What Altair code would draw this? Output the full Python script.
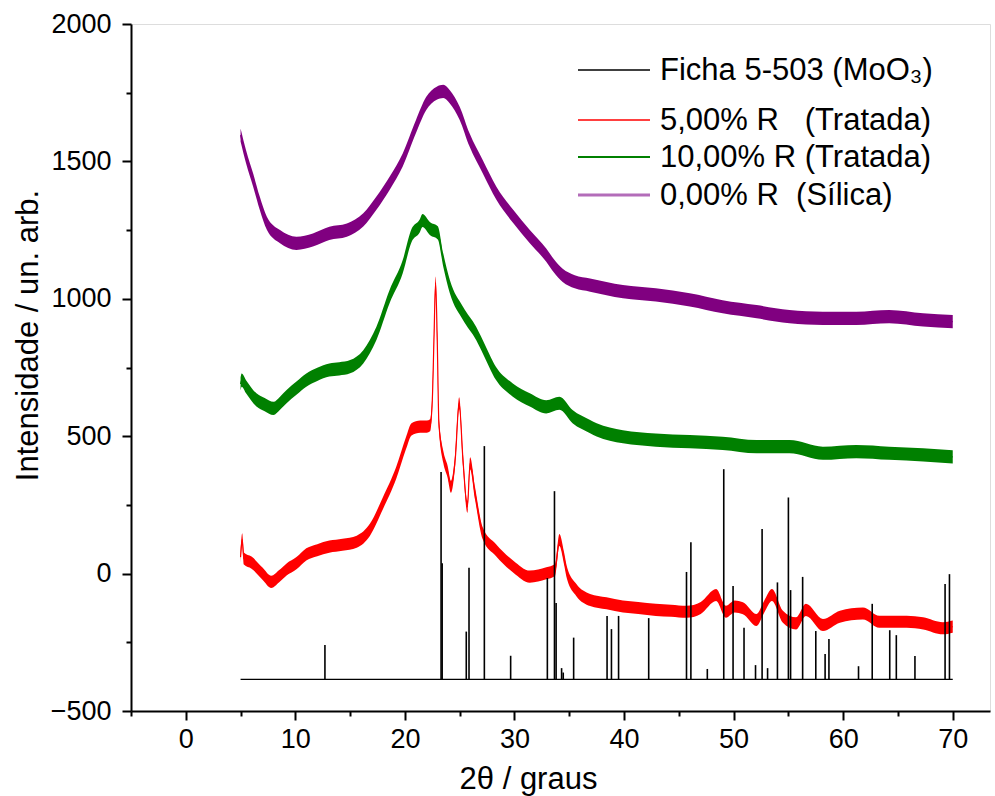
import altair as alt
import pandas as pd

# ---------------- data ----------------
NB = "\u00a0"
NAME_BLACK = "Ficha 5-503 (MoO\u2083)"
NAME_RED = "5,00% R" + NB * 3 + "(Tratada)"
NAME_GREEN = "10,00% R (Tratada)"
NAME_PURPLE = NB + "0,00% R" + NB * 2 + "(Sílica)"

red_x = [5.0, 5.15, 5.3, 6.0, 7.0, 7.8, 8.5, 9.2, 10.1, 11.0, 12.0, 13.1, 14.3, 15.6, 16.8,
         18.0, 19.2, 20.1, 20.6, 21.4, 22.0, 22.3, 22.5, 22.65, 22.8, 22.95, 23.1, 23.5, 23.9,
         24.2, 24.6, 24.95, 25.3, 25.7, 25.95, 26.4, 27.1, 28.3, 29.9, 31.4, 32.9, 33.7, 34.1,
         34.5, 34.8, 35.65, 36.9, 38.4, 39.9, 41.3, 42.9, 44.3, 45.7, 47.0, 48.4, 49.3, 50.1,
         50.85, 52.1, 52.8, 53.5, 54.5, 55.7, 56.6, 58.15, 59.7, 61.8, 63.3, 65.8, 67.3, 69.1, 70.0]
red_y = [60, 125, 55, 40, 0, -30, -10, 15, 38, 70, 85, 98, 105, 116, 159,
         257, 366, 475, 525, 535, 535, 540, 631, 850, 1059, 850, 548, 425, 370,
         316, 420, 620, 413, 243, 401, 292, 147, 86, 25, -11, 1, 13, 122,
         60, 1, -60, -96, -108, -120, -125, -132, -135, -139, -125, -78, -139, -120,
         -126, -169, -120, -78, -157, -181, -132, -187, -157, -145, -175, -175, -181, -199, -193]

green_x = [5.0, 5.1, 5.5, 6.45, 7.2, 8.0, 8.6, 9.2, 10.1, 11.0, 12.0, 13.1, 14.0, 15.0, 16.2,
           17.4, 18.6, 19.8, 20.6, 21.35, 21.6, 22.3, 23.0, 23.5, 24.1, 25.3, 26.5, 27.1, 28.3,
           29.85, 31.4, 32.9, 34.1, 35.3, 36.9, 37.5, 39.9, 42.9, 46.0, 49.0, 52.1, 55.1, 58.15,
           61.2, 64.2, 67.3, 70.0]
green_y = [690, 704, 680, 632, 615, 601, 620, 644, 675, 704, 725, 741, 745, 753, 789,
           874, 1008, 1117, 1230, 1265, 1285, 1255, 1240, 1141, 1044, 947, 874, 826, 729,
           668, 632, 607, 620, 571, 535, 523, 498, 486, 480, 474, 462, 462, 438,
           444, 438, 432, 425]

purple_x = [5.0, 5.5, 6.15, 6.75, 7.4, 8.6, 10.1, 11.6, 13.1, 14.7, 16.2, 17.4, 18.6, 19.8,
            21.0, 21.95, 22.9, 23.5, 24.1, 25.0, 25.9, 27.1, 28.35, 29.9, 31.4, 32.9, 33.6,
            34.4, 35.5, 36.9, 39.9, 42.9, 46.0, 49.0, 52.1, 55.1, 58.15, 61.2, 64.2, 67.3, 70.0]
purple_y = [1596, 1517, 1432, 1348, 1275, 1226, 1202, 1214, 1238, 1250, 1287, 1348, 1420, 1505,
            1626, 1711, 1748, 1755, 1735, 1675, 1578, 1481, 1384, 1299, 1226, 1159, 1120,
            1085, 1062, 1050, 1026, 1014, 996, 971, 953, 935, 929, 929, 935, 923, 917]

# half-width of the noise band of each measured trace
noise_red = 22
noise_green = 24
noise_purple = 24

# reference pattern (stick positions / tops) and its baseline
stick_pos = [12.7, 23.3, 23.4, 25.6, 25.85, 27.25, 29.65, 33.0, 33.65, 33.8, 34.3, 34.45, 35.4,
             38.45, 38.85, 39.5, 42.25, 45.7, 46.1, 47.6, 49.1, 49.95, 50.95, 52.0, 52.6, 53.1,
             54.0, 55.0, 55.2, 56.3, 57.5, 58.35, 58.7, 61.4, 62.65, 64.25, 64.85, 66.55, 69.3, 69.7]
stick_top = [-260, 370, 38, -211, 21, 464, -299, -16, 300, -107, -344, -360, -233,
             -154, -202, -154, -162, 6, 114, -347, 380, -45, -197, -333, 162, -344,
             -32, 277, -60, -12, -209, -293, -238, -337, -110, -206, -224, -300, -38, -2]
base_x = [5.0, 70.0]
base_level = -385

# ---------------- tables ----------------
def trace(xs, ys, name, nz):
    return pd.DataFrame({"x": xs, "y": ys, "lo": [v - nz for v in ys],
                         "hi": [v + nz for v in ys], "serie": name})

traces = pd.concat([trace(purple_x, purple_y, NAME_PURPLE, noise_purple),
                    trace(green_x, green_y, NAME_GREEN, noise_green),
                    trace(red_x, red_y, NAME_RED, noise_red)], ignore_index=True)
sticks = pd.DataFrame({"x": stick_pos, "top": stick_top, "base": base_level, "serie": NAME_BLACK})
base = pd.DataFrame({"x": base_x, "y": [base_level, base_level], "serie": NAME_BLACK})

FONT = "Liberation Sans"

domain = [NAME_BLACK, NAME_RED, NAME_GREEN, NAME_PURPLE]
colors = ["#000000", "#ff0000", "#008000", "#800080"]
color_scale = alt.Scale(domain=domain, range=colors)

xs = alt.Scale(domain=[-5, 73.4], nice=False, zero=False)
ys = alt.Scale(domain=[-500, 2000], nice=False, zero=False)

x_axis = alt.Axis(title="2\u03b8 / graus", values=list(range(-5, 75, 5)),
                  labelExpr="datum.value % 10 === 0 ? datum.label : ''",
                  tickSize={"condition": {"test": "datum.value % 10 === 0", "value": 9}, "value": 5},
                  grid=False, domainColor="black", domainWidth=2, tickColor="black", tickWidth=2,
                  labelFont=FONT, labelFontSize=27, labelColor="black", labelPadding=6,
                  labelOverlap=False, labelFlush=False,
                  titleFont=FONT, titleFontSize=31, titleFontWeight="normal", titleColor="black",
                  titleX=397, titleY=77, titleAlign="center", titleBaseline="alphabetic")
y_axis = alt.Axis(title="Intensidade / un. arb.", values=list(range(-500, 2001, 250)),
                  labelExpr="datum.value % 500 === 0 ? datum.label : ''", format="d",
                  tickSize={"condition": {"test": "datum.value % 500 === 0", "value": 9}, "value": 5},
                  grid=False, domainColor="black", domainWidth=2, tickColor="black", tickWidth=2,
                  labelFont=FONT, labelFontSize=27, labelColor="black", labelPadding=11,
                  labelOverlap=False, labelFlush=False,
                  titleFont=FONT, titleFontSize=31, titleFontWeight="normal", titleColor="black",
                  titleX=-103, titleY=311, titleAlign="center", titleBaseline="middle", titleAngle=-90)

band = alt.Chart(traces).mark_area(opacity=1, strokeWidth=0, interpolate="monotone").encode(
    x=alt.X("x:Q", scale=xs, axis=x_axis),
    y=alt.Y("lo:Q", scale=ys, axis=y_axis),
    y2="hi:Q",
    color=alt.Color("serie:N", scale=color_scale, legend=None),
    detail="serie:N",
)
lines = alt.Chart(traces).mark_line(strokeWidth=1.2, interpolate="monotone").encode(
    x=alt.X("x:Q", scale=xs),
    y=alt.Y("y:Q", scale=ys),
    color=alt.Color("serie:N", scale=color_scale, legend=None),
    detail="serie:N",
)
baseline = alt.Chart(base).mark_line(strokeWidth=1.2).encode(
    x=alt.X("x:Q", scale=xs), y=alt.Y("y:Q", scale=ys),
    color=alt.Color("serie:N", scale=color_scale, legend=None),
)
rules = alt.Chart(sticks).mark_rule(strokeWidth=1.6).encode(
    x=alt.X("x:Q", scale=xs), y=alt.Y("base:Q", scale=ys), y2="top:Q",
    color=alt.Color("serie:N", scale=color_scale, legend=None),
)

# ---------------- legend drawn as a block of rules + texts (layout only) ----------------
legend_colors = ["#000000", "#ff0000", "#008000", "#b36cb9"]
legend_widths = [1.4, 1.6, 1.8, 3.2]
legend_rows = [46, 96, 133, 171]   # pixel offsets of the legend rows inside the plot
legend_layers = []
for name, col, w, row in zip(domain, legend_colors, legend_widths, legend_rows):
    d = pd.DataFrame({"serie": [name]})
    legend_layers.append(
        alt.Chart(d).mark_rule(color=col, strokeWidth=w).encode(
            x=alt.value(447), x2=alt.value(519), y=alt.value(row)))
    legend_layers.append(
        alt.Chart(d).mark_text(align="left", baseline="middle", font=FONT, fontSize=31,
                               color="black").encode(
            x=alt.value(529), y=alt.value(row + 1), text="serie:N"))

chart = alt.layer(band, lines, baseline, rules, *legend_layers).properties(
    width=859, height=687,
    autosize=alt.AutoSizeParams(type="none"),
    padding={"left": 131, "top": 24, "right": 5, "bottom": 85},
).configure_view(stroke=None).configure(background="white")

chart.save("out.html", embed_options={"renderer": "svg", "actions": False})
